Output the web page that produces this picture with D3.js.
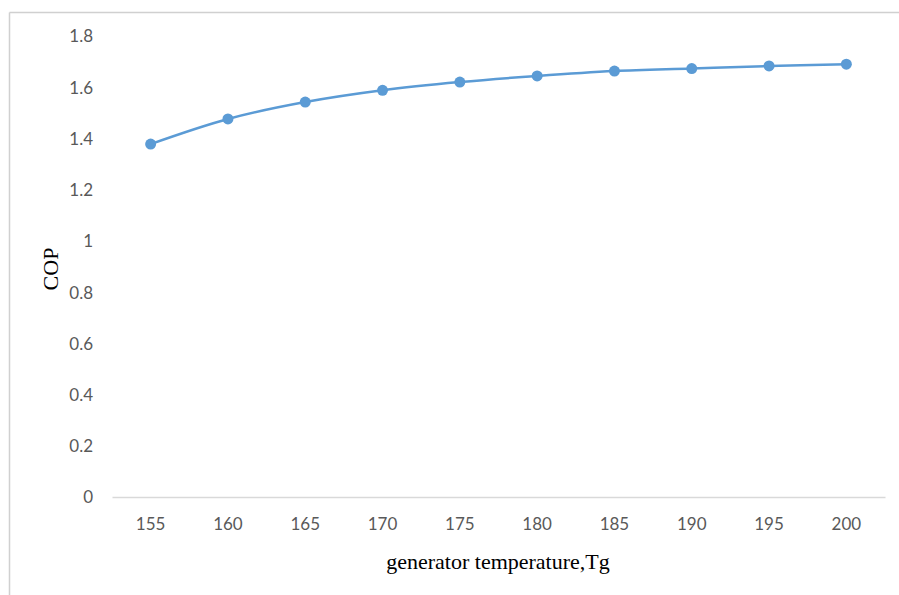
<!DOCTYPE html>
<html>
<head>
<meta charset="utf-8">
<script src="https://cdn.jsdelivr.net/npm/d3@7"></script>
<style>
  body { margin: 0; background: #fff; }
  .tick text { font-family: Lato, "Open Sans", sans-serif; font-size: 17px; fill: #595959; }
  .axisLabel { font-family: "Liberation Serif", "Times New Roman", serif; font-size: 22px; fill: #000; }
</style>
</head>
<body>
<div id="chart"></div>
<script>
const temps = [155, 160, 165, 170, 175, 180, 185, 190, 195, 200];
const cop = [1.378, 1.476, 1.542, 1.588, 1.62, 1.644, 1.663, 1.673, 1.683, 1.69];
const yTicks = [0, 0.2, 0.4, 0.6, 0.8, 1, 1.2, 1.4, 1.6, 1.8];

const width = 899;
const height = 595;
const margin = {top: 36, left: 112, right: 14, bottom: 98};

const viz = d3.select("#chart")
    .append("svg")
    .attr("width", width)
    .attr("height", height);

// frame lines (top and left)
viz.append("line")
    .attr("x1", 9.5).attr("x2", width).attr("y1", 12.5).attr("y2", 12.5)
    .attr("stroke", "#d0d0d0").attr("stroke-width", 1.5);
viz.append("line")
    .attr("x1", 9.5).attr("x2", 9.5).attr("y1", 12.5).attr("y2", height)
    .attr("stroke", "#d0d0d0").attr("stroke-width", 1.5);

// Scales
const xScale = d3.scaleBand()
    .domain(temps)
    .range([margin.left, width - margin.right]);

const yScale = d3.scaleLinear()
    .domain([0, 1.8])
    .range([height - margin.bottom, margin.top]);

// Axes
const xAxis = viz.append("g")
    .attr("transform", `translate(0,${height - margin.bottom})`)
    .call(d3.axisBottom(xScale).tickSize(0).tickPadding(21));
xAxis.select(".domain").attr("stroke", "#d9d9d9").attr("stroke-width", 1.3);

const yAxis = viz.append("g")
    .attr("transform", `translate(${margin.left - 19},0)`)
    .call(d3.axisLeft(yScale).tickValues(yTicks).tickSize(0).tickPadding(0)
        .tickFormat(function(d) { return d3.format("")(d); }));
yAxis.select(".domain").remove();
yAxis.selectAll(".tick text").attr("dy", "0.35em");

// Labels
viz.append("text")
    .attr("class", "axisLabel")
    .attr("x", 498)
    .attr("y", 569)
    .attr("text-anchor", "middle")
    .text("generator temperature,Tg");

viz.append("text")
    .attr("class", "axisLabel")
    .attr("x", -269)
    .attr("y", 58)
    .attr("text-anchor", "middle")
    .attr("transform", "rotate(-90)")
    .text("COP");

// Line
const line = d3.line()
    .x(function(d, i) { return xScale(temps[i]) + xScale.bandwidth() / 2; })
    .y(function(d) { return yScale(d); })
    .curve(d3.curveCatmullRom.alpha(0.5));

viz.append("path")
    .datum(cop)
    .attr("fill", "none")
    .attr("stroke", "#5b9bd5")
    .attr("stroke-width", 2.5)
    .attr("d", line);

// Marks
viz.selectAll("circle")
    .data(cop)
    .enter()
    .append("circle")
        .attr("cx", function(d, i) { return xScale(temps[i]) + xScale.bandwidth() / 2; })
        .attr("cy", function(d) { return yScale(d); })
        .attr("r", 5.5)
        .attr("fill", "#5b9bd5");
</script>
</body>
</html>
